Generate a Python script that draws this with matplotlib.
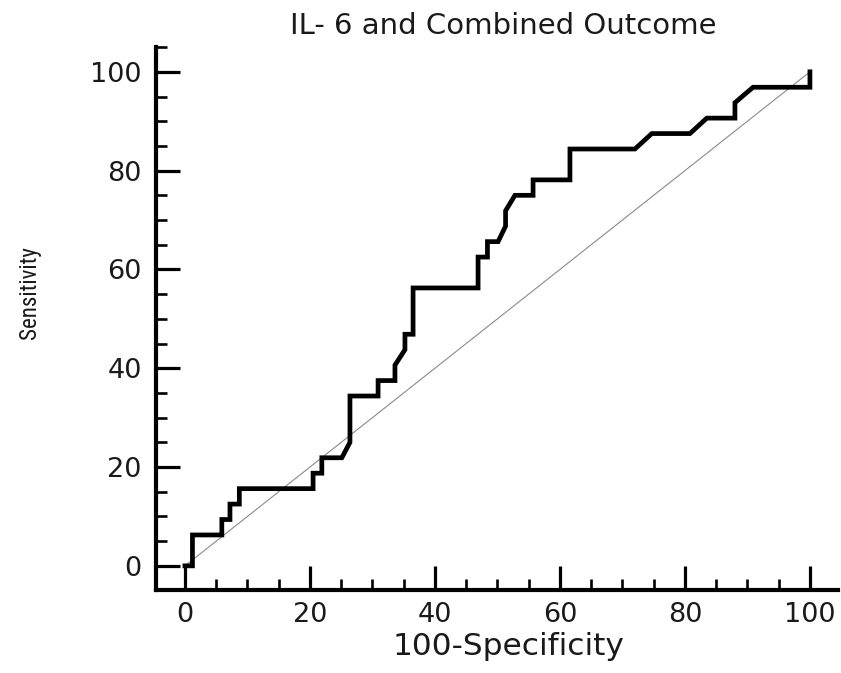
import matplotlib
matplotlib.use("Agg")
import matplotlib.pyplot as plt
from matplotlib import font_manager
from matplotlib.ticker import MultipleLocator

plt.rcParams["font.family"] = ["DejaVu Sans"]

# ROC points (100-specificity, sensitivity)
fpr = [
    0, 1.2, 1.2, 5.9, 5.9, 7.2, 7.2, 8.7, 8.7, 20.5,
    20.5, 21.9, 21.9, 25.1, 26.4, 26.4, 30.9, 30.9, 33.6, 33.6,
    35.2, 35.2, 36.5, 36.5, 46.9, 46.9, 48.4, 48.4, 50.1, 51.3,
    51.3, 52.8, 55.7, 55.7, 61.6, 61.6, 72.0, 74.7, 80.8, 83.5,
    88.0, 88.0, 90.9, 100, 100,
]
sens = [
    0, 0, 6.25, 6.25, 9.375, 9.375, 12.5, 12.5, 15.625, 15.625,
    18.75, 18.75, 21.875, 21.875, 25, 34.375, 34.375, 37.5, 37.5, 40.625,
    43.75, 46.875, 46.875, 56.25, 56.25, 62.5, 62.5, 65.625, 65.625, 68.75,
    71.875, 75, 75, 78.125, 78.125, 84.375, 84.375, 87.5, 87.5, 90.625,
    90.625, 93.75, 96.875, 96.875, 100,
]
diag = [0, 100]
major_ticks = [0, 20, 40, 60, 80, 100]

# narrow face for the y label if one is installed
installed = {f.name for f in font_manager.fontManager.ttflist}
ylab_family, ylab_size = "Liberation Sans", 14
for name, size in [("Liberation Sans Narrow", 17),
                   ("DejaVu Sans Condensed", 15),
                   ("Roboto Condensed", 16.5)]:
    if name in installed:
        ylab_family, ylab_size = name, size
        break

fig = plt.figure(figsize=(8.41, 6.73), dpi=100)
ax = fig.add_axes([0.185, 0.124, 0.8115, 0.806])

ax.plot(diag, diag, color="#8a8a8a", lw=0.8, zorder=1)
ax.plot(fpr, sens, color="black", lw=3.4, solid_joinstyle="miter", zorder=2)

ax.set_xlim(-4.7, 104.5)
ax.set_ylim(-4.8, 105)

ax.spines["top"].set_visible(False)
ax.spines["right"].set_visible(False)
for side in ["left", "bottom"]:
    ax.spines[side].set_linewidth(3)

ax.set_xticks(major_ticks)
ax.set_yticks(major_ticks)
ax.xaxis.set_minor_locator(MultipleLocator(5))
ax.yaxis.set_minor_locator(MultipleLocator(5))

ax.tick_params(which="major", direction="in", length=17, width=2.3,
               labelsize=19.5, labelcolor="#1a1a1a")
ax.tick_params(which="minor", direction="in", length=8, width=1.9)
ax.tick_params(axis="x", which="major", pad=9)
ax.tick_params(axis="y", which="major", pad=10)

fig.text(503.5 / 841, 1 - 33.5 / 673, "IL- 6 and Combined Outcome",
         ha="center", va="baseline", fontsize=21, color="#1a1a1a")
fig.text(508 / 841, 1 - 655 / 673, "100-Specificity",
         ha="center", va="baseline", fontsize=22.5, color="#1a1a1a")
fig.text(29 / 841, 1 - 293 / 673, "Sensitivity",
         rotation=90, ha="center", va="center", fontsize=ylab_size,
         family=[ylab_family, "DejaVu Sans"], color="#1a1a1a")

fig.savefig("out.png", dpi=100)
